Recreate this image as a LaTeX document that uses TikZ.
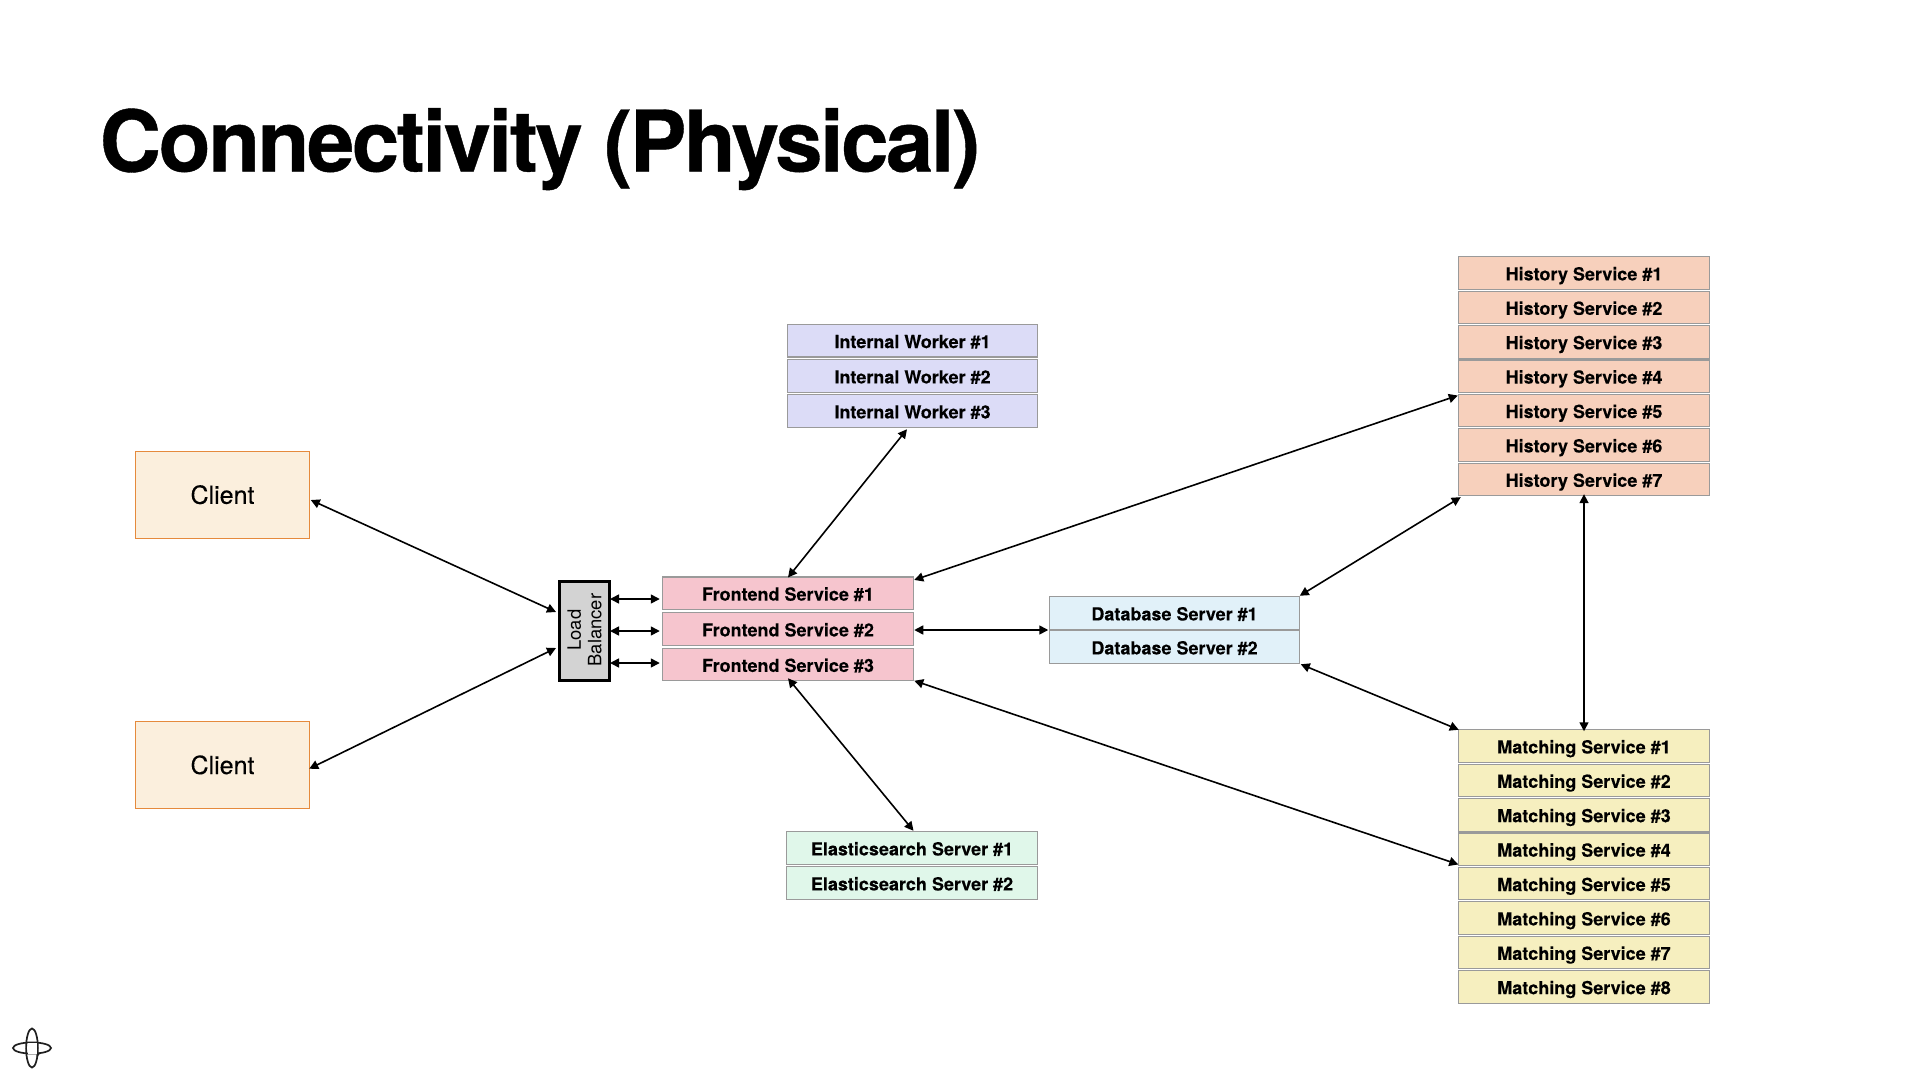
\documentclass[tikz,border=0pt]{standalone}
\usepackage{fontspec}
\setmainfont{TeX Gyre Heros}
\newfontfamily\titlefont[LetterSpace=-2.9,BoldFeatures={FakeBold=0.5}]{TeX Gyre Heros}
\newfontfamily\labelfont[BoldFeatures={FakeBold=0.15}]{TeX Gyre Heros}
\newfontfamily\clientfont[FakeBold=0.2]{TeX Gyre Heros}
\usetikzlibrary{arrows.meta}
\definecolor{clientfill}{HTML}{FBEFDD}
\definecolor{clientline}{HTML}{E58A3C}
\definecolor{boxline}{HTML}{9A9A9A}
\definecolor{fefill}{HTML}{F6C5CE}
\definecolor{iwfill}{HTML}{DCDCF7}
\definecolor{esfill}{HTML}{E0F7EA}
\definecolor{dbfill}{HTML}{E1F1F9}
\definecolor{hsfill}{HTML}{F7D0BC}
\definecolor{msfill}{HTML}{F6EFBF}
\definecolor{lbfill}{HTML}{D3D3D3}
\tikzset{
  svc/.style={draw=boxline,line width=1.1bp,minimum width=250.5bp,minimum height=32.5bp,inner sep=0pt,outer sep=0pt,
    text height=18bp,text depth=3.2bp,font=\fontsize{18bp}{20bp}\selectfont\labelfont\bfseries},
  clientbox/.style={draw=clientline,fill=clientfill,line width=1bp,minimum width=174.5bp,minimum height=87bp,inner sep=0pt,outer sep=0pt,
    text height=21.6bp,text depth=3bp,font=\fontsize{25bp}{28bp}\selectfont\clientfont},
  lbbox/.style={draw=black,fill=lbfill,line width=3bp,minimum width=50bp,minimum height=99bp,inner sep=0pt,outer sep=0pt},
  conn/.style={line width=1.6bp,{Triangle[length=9bp,width=9bp]}-{Triangle[length=9bp,width=9bp]}},
  logoline/.style={draw=black!88,line width=1.7bp}
}
\begin{document}
\begin{tikzpicture}[x=1bp,y=-1bp]
\useasboundingbox (0,0) rectangle (1920,1080);
\fill[white] (0,0) rectangle (1920,1080);
\node[anchor=base west,inner sep=0pt,font=\fontsize{85bp}{90bp}\selectfont\titlefont\bfseries] (title) at (99.5,171.5) {Connectivity (Physical)};

\node[clientbox] (c1) at (222.5,494.5) {Client};
\node[clientbox] (c2) at (222.5,764.7) {Client};
\node[lbbox] (lb) at (584,630.5) {};
\node[rotate=90,align=center,inner sep=0pt,font=\fontsize{18.4bp}{20.5bp}\selectfont] (lbt) at (584.5,630) {Load\\Balancer};

\foreach \i/\y in {1/593.2,2/629,3/664.5}
  \node[svc,fill=fefill] (fe\i) at (788,\y) {Frontend Service \#\i};
\foreach \i/\y in {1/340.7,2/376,3/411}
  \node[svc,fill=iwfill] (iw\i) at (912.5,\y) {Internal Worker \#\i};
\foreach \i/\y in {1/848,2/883}
  \node[svc,fill=esfill] (es\i) at (912,\y) {Elasticsearch Server \#\i};
\foreach \i/\y in {1/613,2/647}
  \node[svc,fill=dbfill] (db\i) at (1174.5,\y) {Database Server \#\i};
\foreach \i in {1,...,7}
  \node[svc,fill=hsfill] (hs\i) at (1584,{273+34.4*(\i-1)}) {History Service \#\i};
\foreach \i in {1,...,8}
  \node[svc,fill=msfill] (ms\i) at (1584,{746+34.4*(\i-1)}) {Matching Service \#\i};

\coordinate (rowa) at (0,599);
\coordinate (rowb) at (0,631);
\coordinate (rowc) at (0,663);
\coordinate (rowd) at (0,630);
\coordinate (rowe) at (0,395.5);

\draw[conn] ([shift={(1,5.5)}]c1.east) -- ([shift={(-3,-18.5)}]lb.west);
\draw[conn] ([shift={(-0.5,4)}]c2.east) -- ([shift={(-3,17.5)}]lb.west);
\draw[conn] ([xshift=1]lb.east |- rowa) -- ([xshift=-3]fe1.west |- rowa);
\draw[conn] ([xshift=1]lb.east |- rowb) -- ([xshift=-3]fe2.west |- rowb);
\draw[conn] ([xshift=1]lb.east |- rowc) -- ([xshift=-3]fe3.west |- rowc);
\draw[conn] ([yshift=-0.5]fe1.north) -- ([shift={(-5.5,2)}]iw3.south);
\draw[conn] ([shift={(1,3)}]fe1.north east) -- ([xshift=-1]hs5.west |- rowe);
\draw[conn] ([xshift=1]fe2.east |- rowd) -- ([xshift=-1]db1.west |- rowd);
\draw[conn] ([shift={(1,0)}]fe3.south east) -- ([shift={(-0.5,-1)}]ms4.south west);
\draw[conn] ([yshift=2.5]fe3.south) -- ([shift={(1.5,-1)}]es1.north);
\draw[conn] ([yshift=1]db1.north east) -- ([shift={(2,1.5)}]hs7.south west);
\draw[conn] ([shift={(1,1)}]db2.south east) -- ([shift={(0,0)}]ms1.north west);
\draw[conn] ([yshift=1.5]hs7.south) -- ([yshift=-1.5]ms1.north);

\begin{scope}[xshift=1bp]
\draw[logoline] (31,1048) ellipse [x radius=5.9,y radius=19.5];
\draw[logoline] (31,1048) ellipse [x radius=19,y radius=5.6];
\fill[white] (26.6,1043.4) rectangle (36.1,1054.2);
\draw[logoline] (39.5,1053) .. controls (37.3,1053.4) and (36.6,1054) .. (36.1,1056.5);
\end{scope}
\end{tikzpicture}
\end{document}
